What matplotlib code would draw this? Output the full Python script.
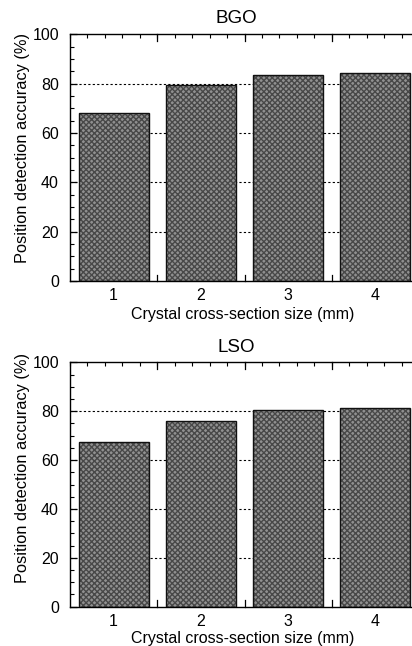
import matplotlib
matplotlib.use("Agg")
import matplotlib.pyplot as plt
from matplotlib.ticker import MultipleLocator, FixedLocator

plt.rcParams['font.family'] = ['Liberation Sans', 'DejaVu Sans']
plt.rcParams['font.size'] = 11.5
plt.rcParams['hatch.linewidth'] = 1.0

# crystal sizes (mm) and detection accuracy (%) for each scintillator
sizes = [1, 2, 3, 4]
size_labels = ['1', '2', '3', '4']
bgo_acc = [68.0, 79.5, 83.5, 84.2]
lso_acc = [67.5, 75.8, 80.6, 81.2]

fig = plt.figure(figsize=(4.12, 6.46), dpi=100)

# axes boxes in figure fractions (right spine runs just past the page edge)
ax_top = fig.add_axes([0.170, 0.565, 0.847, 0.382])
ax_bot = fig.add_axes([0.170, 0.061, 0.847, 0.378])


def draw_panel(ax, values, title, title_y, xlabel_y, ylabel_y):
    ax.set_xlim(0.5, 4.5)
    ax.set_ylim(0, 100)

    # dotted guide lines sit behind the bars
    for yv in [20, 40, 60, 80]:
        ax.axhline(yv, color='black', lw=0.8, ls=(0, (2, 2)), zorder=1)

    # textured fill, then a plain black outline on top
    ax.bar(sizes, values, width=0.8, color='#909090', edgecolor='#484848',
           hatch='xxxxxx', lw=0, zorder=2)
    ax.bar(sizes, values, width=0.8, facecolor='none', edgecolor='#111111',
           lw=1.0, zorder=3)

    ax.set_xticks(sizes)
    ax.set_xticklabels(size_labels)
    ax.tick_params(axis='x', which='major', length=0, pad=5)

    # category boundary ticks and fine ticks along the x axis
    ax.xaxis.set_minor_locator(FixedLocator([0.5 + 0.2 * i for i in range(21)]))
    ax.tick_params(axis='x', which='minor', direction='in', length=3,
                   top=True, bottom=False, width=0.8)
    for xb in [1.5, 2.5, 3.5]:
        ax.plot([xb, xb], [0, 2.5], color='black', lw=0.9, zorder=4,
                clip_on=False)
        ax.plot([xb, xb], [100, 97.2], color='black', lw=0.9, zorder=4,
                clip_on=False)

    ax.yaxis.set_major_locator(MultipleLocator(20))
    ax.yaxis.set_minor_locator(MultipleLocator(5))
    ax.tick_params(axis='y', which='major', direction='in', length=5,
                   width=0.9, pad=8)
    ax.tick_params(axis='y', which='minor', direction='in', length=3,
                   width=0.8)

    for sp in ax.spines.values():
        sp.set_linewidth(1.0)

    fig.text(23 / 412, ylabel_y, 'Position detection accuracy (%)',
             rotation=90, ha='center', va='center', fontsize=11.8)
    fig.text(0.573, title_y, title, ha='center', va='center', fontsize=13.5)
    fig.text(0.590, xlabel_y, 'Crystal cross-section size (mm)',
             ha='center', va='center', fontsize=11.5)


draw_panel(ax_top, bgo_acc, 'BGO', 1 - 18.5 / 646, 1 - 314 / 646, 1 - 148 / 646)
draw_panel(ax_bot, lso_acc, 'LSO', 1 - 348 / 646, 1 - 638 / 646, 1 - 468 / 646)

fig.savefig('out.png', dpi=100)
